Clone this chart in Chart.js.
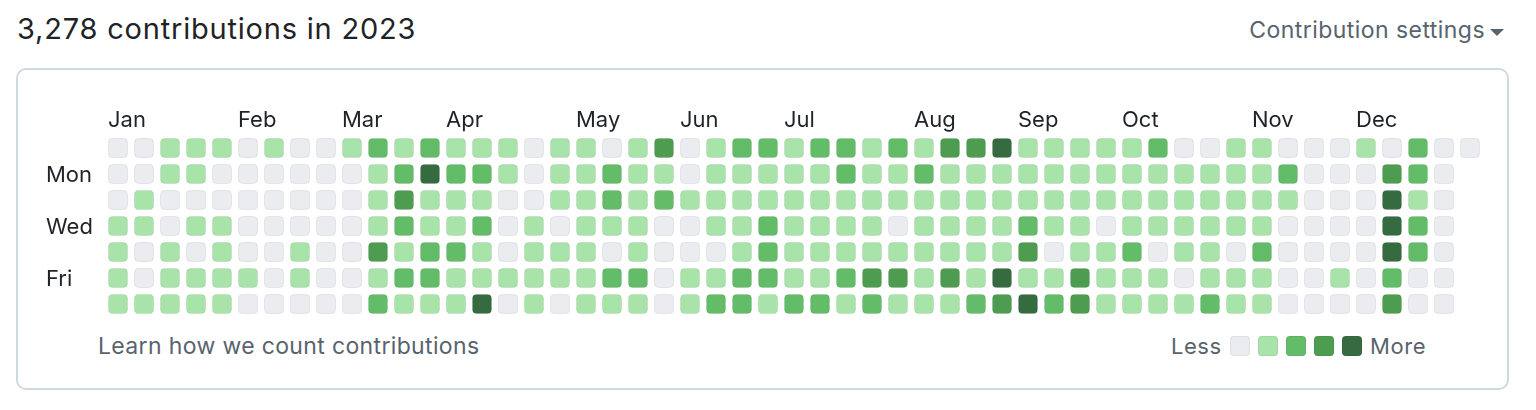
<!DOCTYPE html>
<html>
<head>
<meta charset="utf-8">
<script src="https://cdn.jsdelivr.net/npm/chart.js@4.4.1/dist/chart.umd.min.js"></script>
<style>
  html, body { margin: 0; padding: 0; background: #fff; width: 1536px; height: 410px; overflow: hidden; }
  body { position: relative; font-family: Inter, "Liberation Sans", sans-serif; }
  .txt { position: absolute; white-space: nowrap; }
  #title { left: 17px; top: 14px; font-size: 29px; line-height: 29px; letter-spacing: 0.8px; color: #1f2328; }
  #settings { right: 51px; top: 19px; font-size: 23px; line-height: 23px; letter-spacing: 0.45px; color: #59636e; }
  #caret { position: absolute; left: 1490px; top: 29px; width: 0; height: 0;
    border-left: 7px solid transparent; border-right: 7px solid transparent; border-top: 7px solid #59636e; }
  #card { position: absolute; left: 16px; top: 68px; width: 1493px; height: 322px; box-sizing: border-box;
    border: 2px solid #d1d9e0; border-radius: 10px; }
  #learn { left: 98px; top: 335px; font-size: 23px; line-height: 23px; letter-spacing: 0.35px; color: #59636e; }
  #less { left: 1171px; top: 335px; font-size: 22px; line-height: 22px; letter-spacing: 0.5px; color: #59636e; }
  #more { left: 1370px; top: 335px; font-size: 22px; line-height: 22px; letter-spacing: 0.6px; color: #59636e; }
  .swatch { position: absolute; top: 336px; width: 20px; height: 20px; box-sizing: border-box;
    border-radius: 4px; border: 1px solid rgba(31, 35, 40, 0.06); }
  #chart { position: absolute; left: 0; top: 0; }
</style>
</head>
<body>
<div id="card"></div>
<div class="txt" id="title">3,278 contributions in 2023</div>
<div class="txt" id="settings">Contribution settings</div>
<div id="caret"></div>
<div class="txt" id="learn">Learn how we count contributions</div>
<div class="txt" id="less">Less</div>
<div class="txt" id="more">More</div>
<div id="swatches"></div>
<canvas id="chart" width="1536" height="410"></canvas>
<script>
// contribution levels (0-4), one array per weekday, one entry per week of 2023
const sunLevels = [0,0,1,1,1,0,1,0,0,1,2,1,2, 1,1,1,0,1,1,0,1,3,0,1,2,2, 1,2,2,1,2,1,3,3,4,1,1,1,1, 1,2,0,0,1,1,0,0,0,1,0,2,0,0];
const monLevels = [0,0,1,1,0,0,0,0,0,0,1,2,4, 2,2,1,0,1,1,2,1,1,0,1,1,1, 1,1,2,1,1,2,1,1,1,1,1,1,1, 1,1,1,1,1,1,2,0,0,0,3,2,0];
const tueLevels = [0,1,0,0,0,0,0,0,0,0,1,3,1, 1,1,0,0,1,1,2,1,2,1,1,1,1, 1,1,1,1,1,1,1,1,1,1,1,1,1, 1,1,1,1,1,1,1,0,0,0,4,1,0];
const wedLevels = [1,1,0,1,1,0,0,0,0,0,1,2,1, 1,2,0,1,0,1,1,1,0,0,1,1,2, 1,1,1,1,0,1,1,1,1,2,1,1,0, 1,1,1,1,1,1,0,0,0,0,4,2,0];
const thuLevels = [1,0,1,0,1,0,0,1,0,0,3,1,2, 2,1,0,1,1,1,0,1,0,0,0,1,2, 1,1,1,1,1,1,1,1,1,3,0,1,1, 2,0,1,1,0,2,0,0,0,0,4,2,0];
const friLevels = [1,0,1,1,1,1,0,1,0,0,1,2,2, 1,1,1,1,1,1,2,2,0,1,1,2,2, 1,1,2,3,3,1,3,1,4,1,1,3,1, 1,1,0,1,1,1,0,0,1,0,2,0,0];
const satLevels = [1,1,1,1,1,0,0,0,0,0,2,1,1, 1,4,0,1,0,1,1,1,0,1,2,2,1, 2,2,1,2,1,1,1,2,3,4,2,3,1, 1,1,1,2,1,1,0,0,0,0,3,0,0];

const dayLabels = ['', 'Mon', '', 'Wed', '', 'Fri', ''];
const monthLabels = ['Jan', 'Feb', 'Mar', 'Apr', 'May', 'Jun', 'Jul', 'Aug', 'Sep', 'Oct', 'Nov', 'Dec'];
const monthStartWeek = [0, 5, 9, 13, 18, 22, 26, 31, 35, 39, 44, 48];
const levelColors = ['#ebecf0', '#a8e4a9', '#63bc67', '#4e9c50', '#356b3e'];

const dayRows = [sunLevels, monLevels, tueLevels, wedLevels, thuLevels, friLevels, satLevels];
const points = [];
dayRows.forEach((row, day) => {
  row.forEach((level, week) => points.push({ x: week, y: day, level }));
});

// one small rounded-square sprite per level, used as point style
function cellSprite(color) {
  const c = document.createElement('canvas');
  c.width = 20;
  c.height = 20;
  const g = c.getContext('2d');
  g.beginPath();
  g.roundRect(0.5, 0.5, 19, 19, 4);
  g.fillStyle = color;
  g.fill();
  g.strokeStyle = 'rgba(31,35,40,0.07)';
  g.lineWidth = 1;
  g.stroke();
  return c;
}
const sprites = levelColors.map(cellSprite);

// legend swatches
const swatchBox = document.getElementById('swatches');
levelColors.forEach((color, i) => {
  const s = document.createElement('div');
  s.className = 'swatch';
  s.style.left = (1230 + i * 28) + 'px';
  s.style.background = color;
  swatchBox.appendChild(s);
});

const axisLabels = {
  id: 'axisLabels',
  afterDatasetsDraw(chart) {
    const { ctx, scales: { x, y } } = chart;
    ctx.save();
    ctx.font = '22px Inter, "Liberation Sans", sans-serif';
    ctx.fillStyle = '#1f2328';
    ctx.textBaseline = 'alphabetic';
    monthLabels.forEach((m, i) => {
      ctx.fillText(m, x.getPixelForValue(monthStartWeek[i]) - 10, 127);
    });
    dayLabels.forEach((d, i) => {
      if (d) ctx.fillText(d, 46, y.getPixelForValue(i) + 8);
    });
    ctx.restore();
  },
};

const ctx = document.getElementById('chart').getContext('2d');
new Chart(ctx, {
  type: 'scatter',
  data: {
    datasets: [
      {
        data: points,
        pointStyle: (c) => sprites[c.raw ? c.raw.level : 0],
        pointRadius: 10,
        pointHoverRadius: 10,
      },
    ],
  },
  options: {
    responsive: false,
    animation: false,
    events: [],
    layout: { padding: { left: 105, right: 53, top: 135, bottom: 93 } },
    scales: {
      x: { type: 'linear', min: -0.5, max: 52.5, display: false },
      y: { type: 'linear', min: -0.5, max: 6.5, reverse: true, display: false },
    },
    plugins: {
      legend: { display: false },
      tooltip: { enabled: false },
    },
  },
  plugins: [axisLabels],
});
</script>
</body>
</html>
